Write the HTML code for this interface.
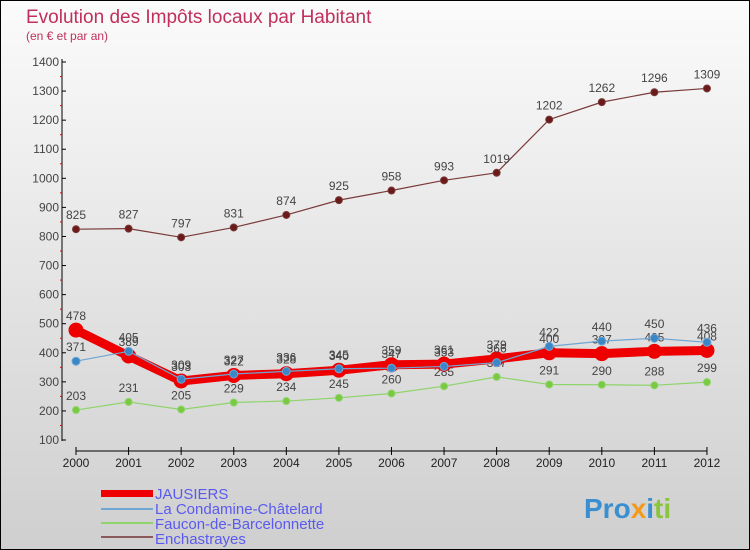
<!DOCTYPE html>
<html><head><meta charset="utf-8"><style>
body{margin:0}
#c{width:750px;height:550px;position:relative;overflow:hidden;font-family:"Liberation Sans","DejaVu Sans",sans-serif;background:linear-gradient(#fbfbfb,#e0e0e0 60%,#cfcfcf);box-sizing:border-box;border:1px solid #000}
</style></head><body>
<div id="c">
<svg id="s" width="750" height="550" style="position:absolute;left:0;top:0">
<text x="25" y="22" font-size="19" fill="#c0305c">Evolution des Impôts locaux par Habitant</text>
<text x="25" y="39" font-size="12" fill="#c0305c">(en € et par an)</text>
<g id="axes"></g><g id="series"></g>
<g>
<rect x="100" y="489" width="52" height="7" fill="#e00"/>
<text x="154" y="498" font-size="15" fill="#5a5af0">JAUSIERS</text>
<rect x="100" y="507" width="52" height="2" fill="#6fa6d3"/>
<text x="154" y="513" font-size="15" fill="#5a5af0">La Condamine-Châtelard</text>
<rect x="100" y="521" width="52" height="2" fill="#8ed46a"/>
<text x="154" y="528" font-size="15" fill="#5a5af0">Faucon-de-Barcelonnette</text>
<rect x="100" y="535" width="52" height="2" fill="#8a5a5a"/>
<text x="154" y="543" font-size="15" fill="#5a5af0">Enchastrayes</text>
</g>
<text x="583" y="517" font-size="28" font-weight="bold" fill="#3a8fd0">Pro<tspan fill="#f39a1a">x</tspan><tspan fill="#3a8fd0">i</tspan><tspan fill="#8bc43d">ti</tspan></text>
</svg>
</div>
<script>
const years=[2000,2001,2002,2003,2004,2005,2006,2007,2008,2009,2010,2011,2012];
const yTicks=[100,200,300,400,500,600,700,800,900,1000,1100,1200,1300,1400];
const jausiers=[478,389,303,322,328,340,359,361,379,400,397,405,408];
const condamine=[371,405,309,327,336,345,347,353,366,422,440,450,436];
const faucon=[203,231,205,229,234,245,260,285,317,291,290,288,299];
const enchastrayes=[825,827,797,831,874,925,958,993,1019,1202,1262,1296,1309];
const NS="http://www.w3.org/2000/svg";
const X=i=>75+i*52.58;
const Y=v=>439-(v-100)*378/1300;
function mk(t,a,p){const e=document.createElementNS(NS,t);for(const k in a)e.setAttribute(k,a[k]);p.appendChild(e);return e;}
const ax=document.getElementById('axes');
let l=mk('line',{x1:61,y1:58,x2:61,y2:440,stroke:'#000'},ax);


l=mk('line',{x1:75,y1:450,x2:706,y2:450,stroke:'#000'},ax);


yTicks.forEach(v=>{
  mk('line',{x1:61,y1:Y(v),x2:65,y2:Y(v),stroke:'#000'},ax);
  if(v<1400) mk('line',{x1:59,y1:Y(v+50),x2:61,y2:Y(v+50),stroke:'#e00'},ax);
  const t=mk('text',{x:58,y:Y(v)+4,'font-size':12,'text-anchor':'end',fill:'#444'},ax);
  t.textContent=v;
  
  
});
years.forEach((y,i)=>{
  mk('line',{x1:X(i),y1:446,x2:X(i),y2:454,stroke:'#000'},ax);
  const t=mk('text',{x:X(i),y:466,'font-size':12,'text-anchor':'middle',fill:'#222'},ax);
  t.textContent=y;
  
  
});
const sg=document.getElementById('series');
function draw(vals,name,col,w,r,dot){
  const g=mk('g',{},sg);
  
  
  const p=mk('polyline',{points:vals.map((v,i)=>X(i)+','+Y(v)).join(' '),fill:'none',stroke:col,'stroke-width':w,'stroke-linejoin':'round'},g);
  
  
  vals.forEach((v,i)=>{
    const c=mk('circle',{cx:X(i),cy:Y(v),r:r,fill:dot,stroke:col,'stroke-width':1},g);
    
    
    const t=mk('text',{x:X(i),y:Y(v)-10,'font-size':12,'text-anchor':'middle',fill:'#444'},g);
    t.textContent=v;
    
    
  });
}
draw(enchastrayes,'enchastrayes','#7a3a3a',1.2,3.5,'#6b1a1a');
draw(faucon,'faucon','#8ed46a',1.2,3.5,'#7ac943');
draw(jausiers,'jausiers','#ee0000',9,7,'#ee0000');
draw(condamine,'condamine','#6fa6d3',1.2,4,'#3a86c6');
</script>
</body></html>
